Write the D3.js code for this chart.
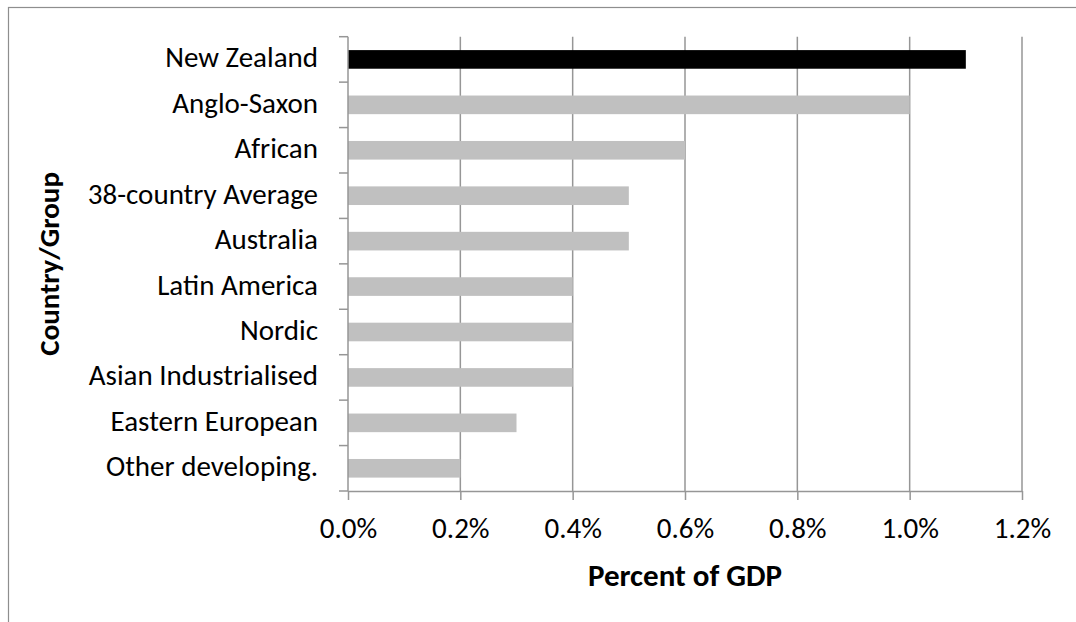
<!DOCTYPE html>
<html>
<head>
<meta charset="utf-8">
<script src="https://cdn.jsdelivr.net/npm/d3@7"></script>
<style>
  html, body { margin: 0; padding: 0; background: #fff; }
  svg { display: block; font-family: Calibri, Carlito, Lato, sans-serif; }
</style>
</head>
<body>
<svg id="chart" width="1076" height="622"></svg>
<script>
// Spending as a percent of GDP, by country or country group
const categories = [
  "New Zealand", "Anglo-Saxon", "African", "38-country Average", "Australia",
  "Latin America", "Nordic", "Asian Industrialised", "Eastern European", "Other developing."
];
const values = [1.1, 1.0, 0.6, 0.5, 0.5, 0.4, 0.4, 0.4, 0.3, 0.2];
const highlight = ["New Zealand"];
const xTicks = [0, 0.2, 0.4, 0.6, 0.8, 1.0, 1.2];

const svg = d3.select("#chart");
const plot = { left: 348, right: 1022, top: 36.7, bottom: 491 };

// Outer chart frame
svg.append("rect")
  .attr("x", 8.5).attr("y", 7.5)
  .attr("width", 1200).attr("height", 800)
  .attr("fill", "none").attr("stroke", "#8e8e8e").attr("stroke-width", 1.2);

const x = d3.scaleLinear().domain([0, 1.2]).range([plot.left, plot.right]);
const y = d3.scaleBand().domain(categories)
  .range([plot.top, plot.bottom])
  .paddingInner(0.59).paddingOuter(0.295);

const axisColor = "#969696";

// Vertical gridlines
svg.append("g").selectAll("line")
  .data(xTicks.slice(1))
  .join("line")
  .attr("x1", d => x(d)).attr("x2", d => x(d))
  .attr("y1", plot.top).attr("y2", plot.bottom)
  .attr("stroke", axisColor).attr("stroke-width", 1.5);

// Bars
svg.append("g").selectAll("rect")
  .data(categories.map((c, i) => ({ c, v: values[i] })))
  .join("rect")
  .attr("x", x(0))
  .attr("y", d => y(d.c))
  .attr("width", d => x(d.v) - x(0))
  .attr("height", y.bandwidth())
  .attr("fill", d => highlight.includes(d.c) ? "#000000" : "#c0c0c0");

// X axis
const xAxis = svg.append("g")
  .attr("transform", `translate(0,${plot.bottom})`)
  .call(d3.axisBottom(x).tickValues(xTicks).tickSize(9).tickSizeOuter(0)
    .tickFormat(d => d.toFixed(1) + "%"));
xAxis.attr("font-family", null).attr("font-size", null);
xAxis.select(".domain").attr("stroke", axisColor).attr("stroke-width", 1.5);
xAxis.selectAll(".tick line").attr("stroke", axisColor).attr("stroke-width", 1.5);
xAxis.selectAll(".tick text")
  .attr("y", 47).attr("dy", 0)
  .attr("fill", "#000")
  .style("font-size", "29px");

// Y axis line and tick marks at category boundaries
svg.append("line")
  .attr("x1", plot.left).attr("x2", plot.left)
  .attr("y1", plot.top).attr("y2", plot.bottom)
  .attr("stroke", axisColor).attr("stroke-width", 1.5);
svg.append("g").selectAll("line")
  .data(d3.range(categories.length + 1))
  .join("line")
  .attr("x1", plot.left - 9).attr("x2", plot.left)
  .attr("y1", i => plot.top + i * y.step())
  .attr("y2", i => plot.top + i * y.step())
  .attr("stroke", axisColor).attr("stroke-width", 1.5);

// Category labels
svg.append("g").selectAll("text")
  .data(categories)
  .join("text")
  .attr("x", plot.left - 30)
  .attr("y", d => y(d) + y.bandwidth() / 2 + 8)
  .attr("text-anchor", "end")
  .attr("fill", "#000")
  .style("font-size", "29px")
  .text(d => d);

// Axis titles
svg.append("text")
  .attr("x", (plot.left + plot.right) / 2)
  .attr("y", 586)
  .attr("text-anchor", "middle")
  .style("font-size", "31px").style("font-weight", "bold")
  .text("Percent of GDP");

svg.append("text")
  .attr("transform", `translate(59,${(plot.top + plot.bottom) / 2}) rotate(-90)`)
  .attr("text-anchor", "middle")
  .style("font-size", "29px").style("font-weight", "bold")
  .text("Country/Group");
</script>
</body>
</html>
